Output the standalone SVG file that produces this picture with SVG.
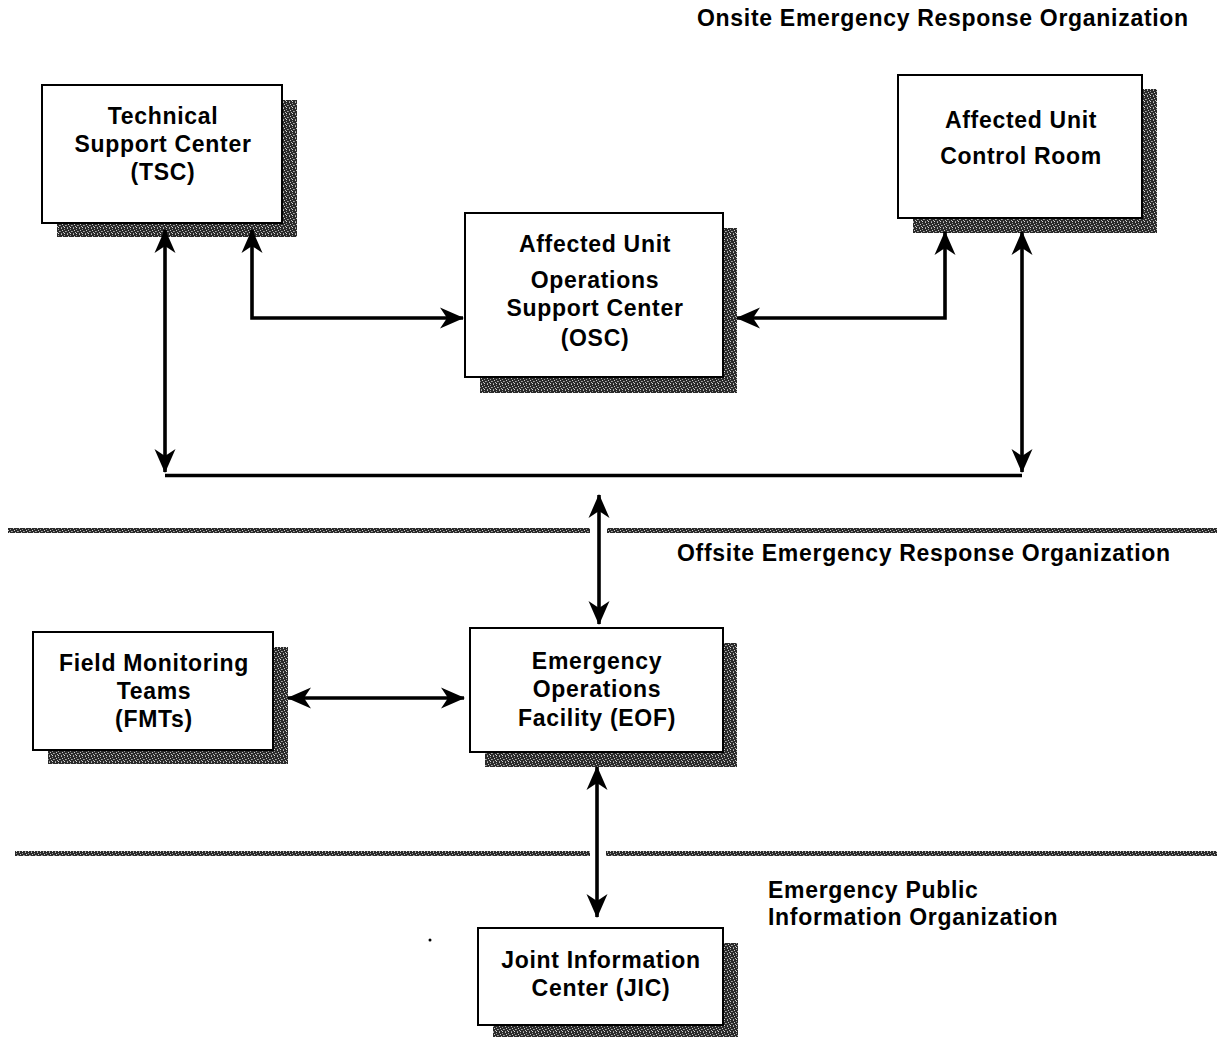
<svg xmlns="http://www.w3.org/2000/svg" width="1217" height="1037" viewBox="0 0 1217 1037">
  <defs>
    <!-- grainy dark fill used for drop shadows and separator rules -->
    <pattern id="grain" width="6" height="6" patternUnits="userSpaceOnUse">
      <rect width="6" height="6" fill="#2a2a2a"/>
      <rect x="1" y="0" width="1" height="1" fill="#bbb"/>
      <rect x="4" y="1" width="1" height="1" fill="#999"/>
      <rect x="2" y="2" width="1" height="1" fill="#ccc"/>
      <rect x="0" y="3" width="1" height="1" fill="#888"/>
      <rect x="5" y="3" width="1" height="1" fill="#aaa"/>
      <rect x="3" y="4" width="1" height="1" fill="#bbb"/>
      <rect x="1" y="5" width="1" height="1" fill="#999"/>
      <rect x="4" y="5" width="1" height="1" fill="#ddd"/>
    </pattern>
    <marker id="head" markerUnits="userSpaceOnUse" markerWidth="30" markerHeight="26" viewBox="-26 -13 28 26" refX="0" refY="0" orient="auto-start-reverse" overflow="visible">
      <path d="M1,0 L-23,-10.5 L-16,0 L-23,10.5 Z" fill="#000"/>
    </marker>
  </defs>
  <style>
    .box { fill: #fff; stroke: #000; stroke-width: 2; }
    .shadow { fill: url(#grain); }
    .rule { fill: url(#grain); }
    .lbl { font-family: "Liberation Sans", Arial, sans-serif; font-weight: bold; font-size: 23px; letter-spacing: 0.7px; fill: #000; }
    .mid { text-anchor: middle; }
    .conn { fill: none; stroke: #000; stroke-width: 3.6; }
    .arrow { marker-start: url(#head); marker-end: url(#head); }
  </style>

  <rect width="1217" height="1037" fill="#fff"/>

  <!-- organization section labels and separator rules -->
  <g id="sections">
    <text class="lbl" x="697" y="26">Onsite Emergency Response Organization</text>
    <rect class="rule" x="8" y="528" width="582" height="5"/>
    <rect class="rule" x="607" y="528" width="610" height="5"/>
    <text class="lbl" x="677" y="561">Offsite Emergency Response Organization</text>
    <rect class="rule" x="15" y="851" width="575" height="5"/>
    <rect class="rule" x="606" y="851" width="611" height="5"/>
    <text class="lbl" x="768" y="898">Emergency Public</text>
    <text class="lbl" x="768" y="925">Information Organization</text>
    <circle cx="430" cy="940" r="1.5" fill="#000"/>
  </g>

  <g id="tsc">
    <rect class="shadow" x="57" y="100" width="240" height="137"/>
    <rect class="box" x="42" y="85" width="240" height="138"/>
    <text class="lbl mid" x="163" y="124">Technical</text>
    <text class="lbl mid" x="163" y="152">Support Center</text>
    <text class="lbl mid" x="163" y="180">(TSC)</text>
  </g>

  <g id="osc">
    <rect class="shadow" x="480" y="228" width="257" height="165"/>
    <rect class="box" x="465" y="213" width="258" height="164"/>
    <text class="lbl mid" x="595" y="252">Affected Unit</text>
    <text class="lbl mid" x="595" y="288">Operations</text>
    <text class="lbl mid" x="595" y="316">Support Center</text>
    <text class="lbl mid" x="595" y="346">(OSC)</text>
  </g>

  <g id="control-room">
    <rect class="shadow" x="913" y="89" width="244" height="144"/>
    <rect class="box" x="898" y="75" width="244" height="143"/>
    <text class="lbl mid" x="1021" y="128">Affected Unit</text>
    <text class="lbl mid" x="1021" y="164">Control Room</text>
  </g>

  <g id="fmt">
    <rect class="shadow" x="48" y="647" width="240" height="117"/>
    <rect class="box" x="33" y="632" width="240" height="118"/>
    <text class="lbl mid" x="154" y="671">Field Monitoring</text>
    <text class="lbl mid" x="154" y="699">Teams</text>
    <text class="lbl mid" x="154" y="727">(FMTs)</text>
  </g>

  <g id="eof">
    <rect class="shadow" x="485" y="643" width="252" height="124"/>
    <rect class="box" x="470" y="628" width="253" height="124"/>
    <text class="lbl mid" x="597" y="669">Emergency</text>
    <text class="lbl mid" x="597" y="697">Operations</text>
    <text class="lbl mid" x="597" y="726">Facility (EOF)</text>
  </g>

  <g id="jic">
    <rect class="shadow" x="493" y="943" width="245" height="94"/>
    <rect class="box" x="478" y="928" width="245" height="97"/>
    <text class="lbl mid" x="601" y="968">Joint Information</text>
    <text class="lbl mid" x="601" y="996">Center (JIC)</text>
  </g>

  <g id="connectors">
    <path class="conn arrow" d="M165,230 V472"/>
    <path class="conn arrow" d="M252,230 V318 H463"/>
    <path class="conn arrow" d="M737,318 H945 V232"/>
    <path class="conn arrow" d="M1022,232 V472"/>
    <path class="conn" d="M165,475.5 H1022"/>
    <path class="conn arrow" d="M599,495 V624"/>
    <path class="conn arrow" d="M288,698 H464"/>
    <path class="conn arrow" d="M597,767 V917"/>
  </g>
</svg>
